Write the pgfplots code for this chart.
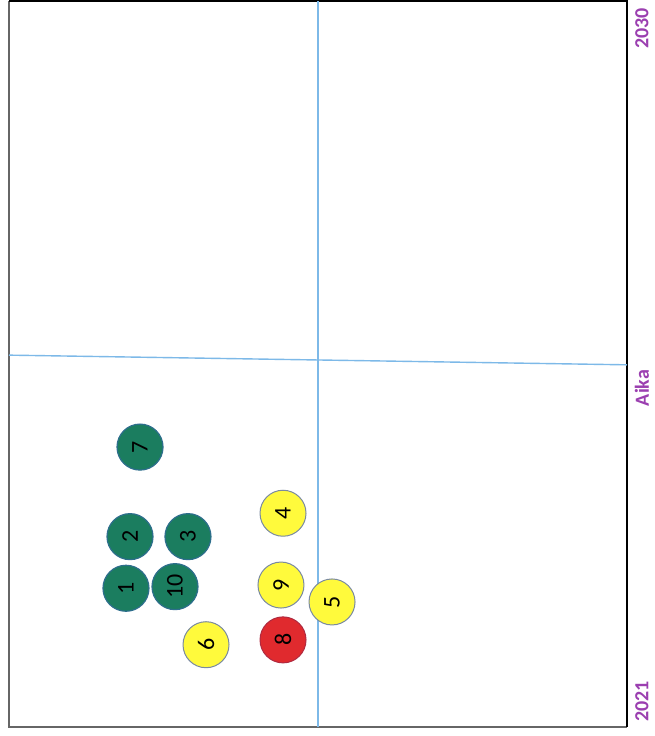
\documentclass[border=0pt]{standalone}
\usepackage{fontspec}
\setmainfont{Carlito}
\usepackage{pgfplots}
\pgfplotsset{compat=1.18}
\definecolor{dgreen}{HTML}{1B7D5F}
\definecolor{gedge}{HTML}{2D6E8C}
\definecolor{yfill}{HTML}{FFFA3C}
\definecolor{yedge}{HTML}{7A8AA0}
\definecolor{rfill}{HTML}{E02A2E}
\definecolor{redge}{HTML}{B02A40}
\definecolor{lblue}{HTML}{7DB9E8}
\definecolor{lab}{HTML}{9B3FB0}
\begin{document}
\begin{tikzpicture}
\useasboundingbox (0,0) rectangle (327.5pt,368pt);
\fill[white] (0,0) rectangle (327.5pt,368pt);
\begin{axis}[
  at={(4.5pt,4.5pt)}, anchor=south west,
  scale only axis, width=309pt, height=363pt,
  xmin=0, xmax=10, ymin=2021, ymax=2030,
  axis line style={draw=none},
  xtick=\empty, ytick=\empty,
  clip=false,
  nodes near coords,
  point meta=explicit symbolic,
  every node near coord/.append style={rotate=90, anchor=center, font=\fontsize{12}{13}\selectfont, text=black, inner sep=0pt},
]
\draw[gray!80!black, line width=1.4pt] (rel axis cs:0,1) -- (rel axis cs:0,0) -- (rel axis cs:1,0);
\draw[black, line width=0.8pt] (rel axis cs:0,1) -- (rel axis cs:1,1) -- (rel axis cs:1,0);
\addplot[lblue, line width=0.7pt, no marks, nodes near coords={}] coordinates {(5,2021) (5,2030)};
\addplot[lblue, line width=0.7pt, no marks, nodes near coords={}] coordinates {(0,2025.61) (10,2025.49)};
\addplot[only marks, mark=*, mark size=11.5pt, mark options={fill=dgreen, draw=gedge, line width=0.6pt}]
  table[meta=label] {
x y label
1.893 2022.72 1
1.958 2023.36 2
2.896 2023.36 3
2.120 2024.47 7
2.686 2022.74 10
};
\addplot[only marks, mark=*, mark size=11.5pt, mark options={fill=yfill, draw=yedge, line width=0.5pt}]
  table[meta=label] {
x y label
4.434 2023.65 4
5.227 2022.55 5
3.188 2022.02 6
4.401 2022.76 9
};
\addplot[only marks, mark=*, mark size=11.5pt, mark options={fill=rfill, draw=redge, line width=0.5pt}]
  table[meta=label] {
x y label
4.434 2022.08 8
};
\node[rotate=90, text=lab, font=\fontsize{10}{12}\selectfont\bfseries] at (rel axis cs:1.024,0.962) {2030};
\node[rotate=90, text=lab, font=\fontsize{10}{12}\selectfont\bfseries] at (rel axis cs:1.024,0.467) {Aika};
\node[rotate=90, text=lab, font=\fontsize{10}{12}\selectfont\bfseries] at (rel axis cs:1.024,0.035) {2021};
\end{axis}
\end{tikzpicture}
\end{document}
